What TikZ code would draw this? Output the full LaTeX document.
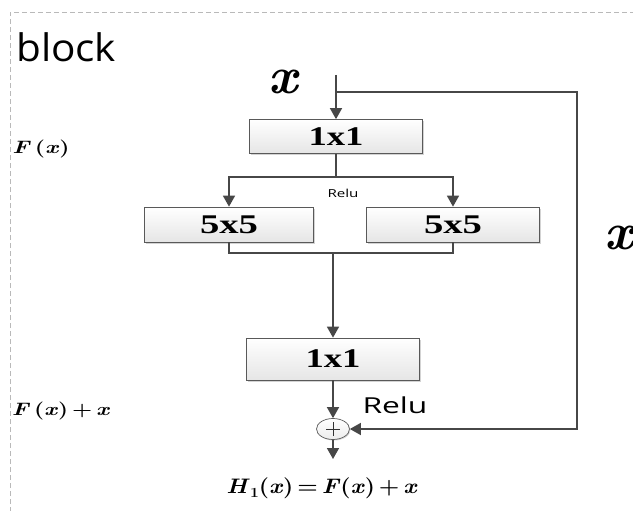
\documentclass[tikz,border=0pt]{standalone}
\usepackage{fontspec}
\setmainfont{Liberation Serif}
\newfontfamily\sansf{Open Sans}
\newfontfamily\lmr{Latin Modern Roman}
\usetikzlibrary{arrows.meta,shadows,shapes.geometric}
\newcommand{\wfit}[2]{\resizebox{#1}{\height}{#2}}
\newcommand{\mv}[1]{\textit{#1}}
\begin{document}
\begin{tikzpicture}[x=1pt,y=-1pt,
 conv/.style={draw=gray!70!black, line width=0.7pt, top color=white, bottom color=gray!20,
   minimum width=173pt, minimum height=34pt, inner sep=0pt,
   font=\fontsize{27}{27}\selectfont\bfseries,
   drop shadow={shadow xshift=1.5pt, shadow yshift=-1.5pt, opacity=0.35, fill=gray}},
 conn/.style={draw=black!72, line width=1.6pt},
 arr/.style={conn, -{Triangle[length=11pt,width=12pt]}},
 mlabel/.style={inner sep=0pt},
 slabel/.style={font=\sansf, inner sep=0pt}]
\useasboundingbox (0,0) rectangle (633,511);
\draw[gray!55, line width=0.8pt, dash pattern=on 5pt off 3pt] (10,520) -- (10,12) -- (640,12);

\node[slabel, font=\sansf\fontsize{38}{38}\selectfont, anchor=base west] (blk) at (16,62) {\wfit{100pt}{block}};

\node[conv] (b1) at (336,136.5) {\wfit{55pt}{1x1}};
\node[conv, minimum width=169pt, minimum height=35pt] (b2) at (229,224.5) {\wfit{58pt}{5x5}};
\node[conv, minimum width=173pt, minimum height=35pt] (b3) at (453,224.5) {\wfit{58pt}{5x5}};
\node[conv, minimum height=42pt] (b4) at (333,359) {\wfit{55pt}{1x1}};

\node[ellipse, draw=gray!70!black, line width=0.7pt, top color=white, bottom color=gray!15,
  minimum width=33pt, minimum height=21pt, inner sep=0pt,
  drop shadow={shadow xshift=1pt, shadow yshift=-1pt, opacity=0.3, fill=gray},
  path picture={\draw[black!80, line width=0.9pt]
    ([xshift=-7pt]path picture bounding box.center) -- ([xshift=7pt]path picture bounding box.center)
    ([yshift=-7pt]path picture bounding box.center) -- ([yshift=7pt]path picture bounding box.center);}]
  (add) at (333,429) {};

\coordinate (xin) at (336,75);
\coordinate (j1) at (336,92);
\coordinate (rt) at (577,92);
\coordinate (rb) at (577,429);
\coordinate (s1) at (336,177);
\coordinate (sl) at (229,177);
\coordinate (sr) at (453,177);
\coordinate (ml) at (229,253);
\coordinate (mr) at (453,253);
\coordinate (mc) at (333,253);
\coordinate (out) at (333,459);

\draw[arr] (xin) -- (b1.north);
\draw[arr] (j1) -- (rt) -- (rb) -- (add.east);
\draw[conn] (b1.south) -- (s1);
\draw[arr] (sl) -- (sr) -- (b3.north);
\draw[arr] (sr) -- (sl) -- (b2.north);
\draw[conn] (b2.south) -- (ml) -- (mr) -- (b3.south);
\draw[arr] (mc) -- (b4.north);
\draw[arr] (b4.south) -- (add.north);
\draw[arr] (add.south) -- (out);

\node[slabel, font=\sansf\fontsize{11}{11}\selectfont] (relu1) at (343,193) {\wfit{31pt}{Relu}};
\node[slabel, font=\sansf\fontsize{22}{22}\selectfont] (relu2) at (395,405) {\wfit{65pt}{Relu}};

\node[mlabel, font=\lmr\bfseries\itshape\fontsize{52}{52}\selectfont] (xtop) at (283,82) {x};
\node[mlabel, font=\lmr\bfseries\itshape\fontsize{52}{52}\selectfont, anchor=west] (xright) at (604,238) {x};
\node[mlabel, font=\lmr\bfseries\fontsize{18}{18}\selectfont] (fx) at (41,149) {\wfit{57pt}{\mv{F}\,(\mv{x})}};
\node[mlabel, font=\lmr\bfseries\fontsize{18}{18}\selectfont] (fxx) at (61,411) {\wfit{98pt}{\mv{F}\,(\mv{x})\,+\,\mv{x}}};
\node[mlabel, font=\lmr\bfseries\fontsize{21}{21}\selectfont] (h1) at (322,488) {\wfit{191pt}{\mv{H}\raisebox{-4pt}{\fontsize{14}{14}\selectfont 1}(\mv{x})\,=\,\mv{F}(\mv{x})\,+\,\mv{x}}};
\end{tikzpicture}
\end{document}
